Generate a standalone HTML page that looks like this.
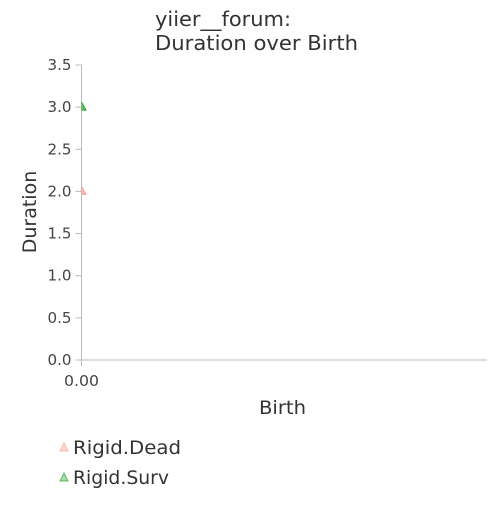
<!DOCTYPE html>
<html><head><meta charset="utf-8"><style>
body{margin:0;background:#fff;}
svg{font-family:"DejaVu Sans","Liberation Sans",sans-serif;}
</style></head><body>
<svg id="chart" width="500" height="500">
<text x="155" y="26" font-size="20" fill="#333"><tspan x="155" textLength="136" lengthAdjust="spacingAndGlyphs">yiier__forum:</tspan><tspan x="155" dy="24" textLength="203" lengthAdjust="spacingAndGlyphs">Duration over Birth</tspan></text>
<g id="axes"></g>
<defs><clipPath id="plotclip"><rect x="81.5" y="55" width="410" height="310"/></clipPath></defs>
<g id="marks" clip-path="url(#plotclip)"></g>
<text x="259" y="414" font-size="19" fill="#333" textLength="47" lengthAdjust="spacingAndGlyphs">Birth</text>
<text transform="translate(36,212) rotate(-90)" font-size="19" text-anchor="middle" fill="#333">Duration</text>
<g id="legend"></g>
</svg>
<script>
const seriesNames=["Rigid.Dead","Rigid.Surv"];
const seriesColors=["#f9a090","#2ca02c"];
const births=[0,0];
const durations=[2.0,3.0];
const yTicks=[0,0.5,1,1.5,2,2.5,3,3.5];
const xTicks=["0.00"];
const NS="http://www.w3.org/2000/svg";
const x0=81.5,x1=487,y0=360,y1=65,yMax=3.5;
const xs=v=>x0+v*(x1-x0);
const ys=v=>y0-v/yMax*(y0-y1);
function mk(t,a,p){const e=document.createElementNS(NS,t);for(const k in a)e.setAttribute(k,a[k]);p.appendChild(e);return e;}
const ax=document.getElementById('axes');
const yl=mk('line',{x1:x0,x2:x0,y1:y1,y2:y0,stroke:'#bbb'},ax);


const xl=mk('line',{x1:x0,x2:x1,y1:y0,y2:y0,stroke:'#bbb'},ax);


yTicks.forEach(v=>{
 const y=ys(v);
 mk('line',{x1:x0-6,x2:x0,y1:y,y2:y,stroke:'#bbb'},ax);
 const t=mk('text',{x:x0-10,y:y+5,'font-size':15.5,'text-anchor':'end',fill:'#444',textLength:24,lengthAdjust:'spacingAndGlyphs'},ax);
 t.textContent=v.toFixed(1);
 
 
});
xTicks.forEach((s,i)=>{
 const x=xs(i);
 mk('line',{x1:x,x2:x,y1:y0,y2:y0+6,stroke:'#bbb'},ax);
 const t=mk('text',{x:x,y:y0+26,'font-size':15.5,'text-anchor':'middle',fill:'#444',textLength:35,lengthAdjust:'spacingAndGlyphs'},ax);
 t.textContent=s;
 
 
});
const mg=document.getElementById('marks');
durations.forEach((d,i)=>{
 const x=xs(births[i]),y=ys(d);
 const p=mk('path',{d:`M${x},${y-5}L${x+4.5},${y+3}L${x-4.5},${y+3}Z`,fill:seriesColors[i],'fill-opacity':0.7,stroke:seriesColors[i]},mg);
 
 
});
const lg=document.getElementById('legend');
const legendLens=[108,96];
seriesNames.forEach((n,i)=>{
 const y=448+i*30;
 const g=mk('g',{},lg);
 
 
 mk('path',{d:`M64,${y-5}L68,${y+3}L60,${y+3}Z`,fill:seriesColors[i],'fill-opacity':0.4,stroke:seriesColors[i],'stroke-opacity':0.7},g);
 const t=mk('text',{x:73,y:y+6,'font-size':19,fill:'#333',textLength:legendLens[i],lengthAdjust:'spacingAndGlyphs'},g);
 t.textContent=n;
});
</script>
</body></html>
